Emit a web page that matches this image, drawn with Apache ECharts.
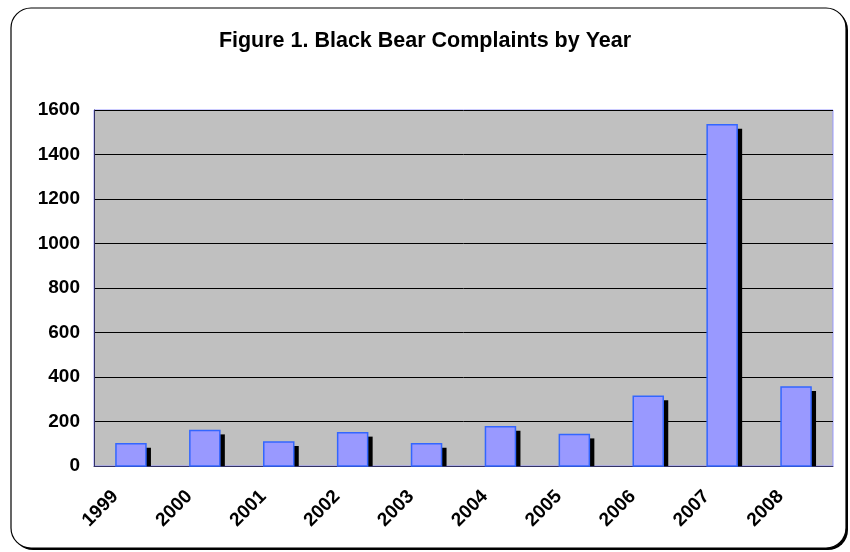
<!DOCTYPE html>
<html>
<head>
<meta charset="utf-8">
<script src="https://cdn.jsdelivr.net/npm/echarts@6/dist/echarts.min.js"></script>
<style>html,body{margin:0;padding:0;background:#fff;}#c{width:850px;height:552px;}</style>
</head>
<body>
<div id="c"></div>
<script>
var titleText = 'Figure 1. Black Bear Complaints by Year';
var years = ['1999','2000','2001','2002','2003','2004','2005','2006','2007','2008'];
var complaints = [100, 160, 108, 150, 100, 176, 142, 313, 1534, 355];
var yTicks = [0, 200, 400, 600, 800, 1000, 1200, 1400, 1600];

var chart = echarts.init(document.getElementById('c'), null, {renderer: 'canvas'});
var font = 'Liberation Sans, Arial, sans-serif';
var barData = complaints.map(function (v, i) { return [i, v]; });

chart.setOption({
  animation: false,
  backgroundColor: '#ffffff',
  title: {
    text: titleText,
    left: 'center',
    top: 25,
    textStyle: {fontFamily: font, fontWeight: 'bold', fontSize: 21.5, color: '#000'}
  },
  graphic: [{
    type: 'rect', z: -11, silent: true,
    shape: {x: 13, y: 10, width: 835, height: 540, r: 20},
    style: {fill: '#000'}
  }, {
    type: 'rect', z: -10, silent: true,
    shape: {x: 11, y: 8, width: 835, height: 540, r: 20},
    style: {fill: '#ffffff', stroke: '#000', lineWidth: 1.2}
  }],
  grid: {
    left: 94, top: 110, right: 17, bottom: 86,
    show: true, backgroundColor: '#C0C0C0', borderColor: '#9999FF', borderWidth: 1
  },
  xAxis: {
    type: 'category',
    data: years,
    axisLine: {lineStyle: {color: '#333366', width: 1}},
    axisTick: {show: false},
    axisLabel: {rotate: 45, margin: 12, padding: [0, 22, 0, 0], fontFamily: font, fontWeight: 'bold', fontSize: 19, color: '#000', interval: 0}
  },
  yAxis: {
    type: 'value',
    min: 0, max: 1600, interval: 200,
    axisLine: {show: true, lineStyle: {color: '#333366', width: 1}},
    axisTick: {show: false},
    splitLine: {lineStyle: {color: '#000', width: 1}},
    axisLabel: {margin: 14, fontFamily: font, fontWeight: 'bold', fontSize: 19, color: '#000',
      formatter: function (v) { return yTicks.indexOf(v) >= 0 ? String(v) : ''; }}
  },
  series: [{
    type: 'custom',
    data: barData,
    renderItem: function (params, api) {
      var top = api.coord([api.value(0), api.value(1)]);
      var base = api.coord([api.value(0), 0]);
      var w = 30;
      return {
        type: 'group',
        children: [{
          type: 'rect',
          shape: {x: top[0] - w / 2 + 5, y: top[1] + 4, width: w, height: base[1] - top[1] - 4},
          style: {fill: '#000'}
        }, {
          type: 'rect',
          shape: {x: top[0] - w / 2, y: top[1], width: w, height: base[1] - top[1]},
          style: {fill: '#9999FF', stroke: '#3366FF', lineWidth: 1.5}
        }]
      };
    }
  }]
});
</script>
</body>
</html>
